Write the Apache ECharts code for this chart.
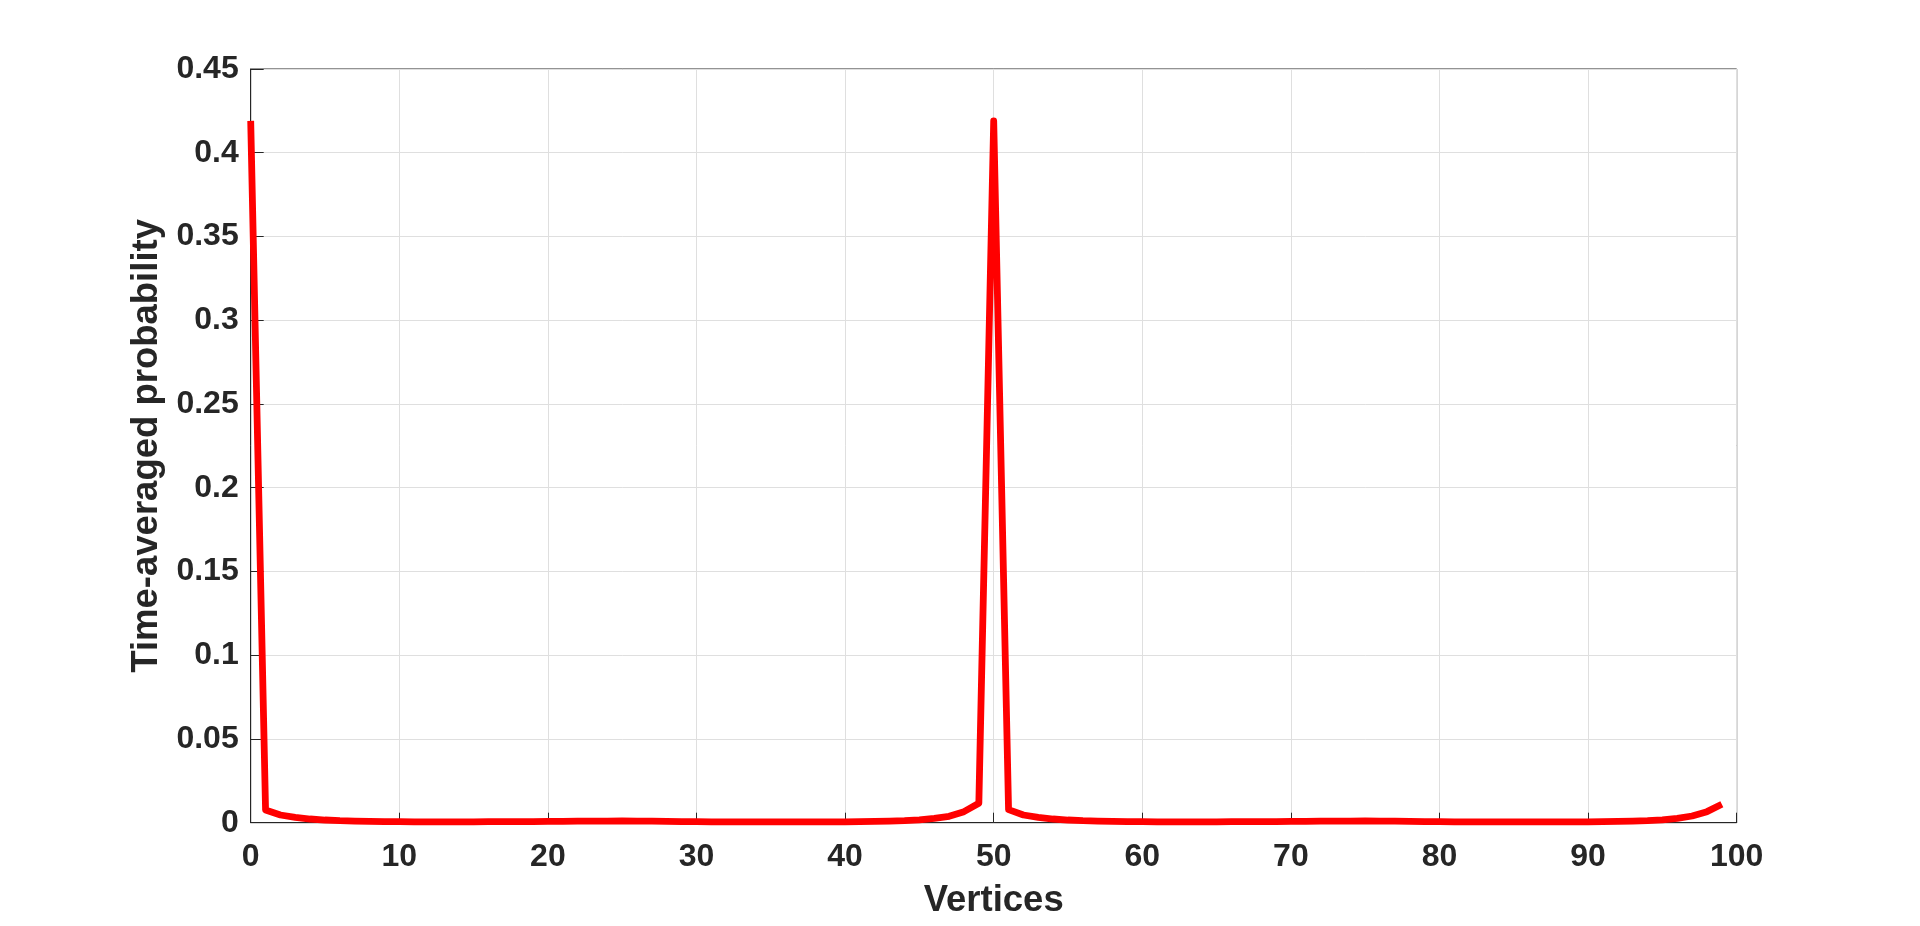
<!DOCTYPE html>
<html>
<head>
<meta charset="utf-8">
<script src="https://cdn.jsdelivr.net/npm/echarts@6/dist/echarts.min.js"></script>
<style>
html,body{margin:0;padding:0;background:#fff;}
#chart{width:1920px;height:926px;}
</style>
</head>
<body>
<div id="chart"></div>
<script>
const vertices = Array.from({length: 100}, (_, i) => i);
const probability = [
  0.419, 0.0076, 0.0046, 0.0032, 0.0022, 0.0016, 0.0012, 0.0010, 0.0008, 0.0007,
  0.0006, 0.0005, 0.0005, 0.0005, 0.0005, 0.0005, 0.0006, 0.0006, 0.0007, 0.0007,
  0.0008, 0.0008, 0.0009, 0.0010, 0.0010, 0.0011, 0.0010, 0.0009, 0.0008, 0.0007,
  0.0006, 0.0005, 0.0005, 0.0005, 0.0005, 0.0005, 0.0005, 0.0005, 0.0005, 0.0005,
  0.0005, 0.0006, 0.0008, 0.0010, 0.0012, 0.0017, 0.0026, 0.0038, 0.0066, 0.0116,
  0.419, 0.0078, 0.0046, 0.0032, 0.0022, 0.0016, 0.0012, 0.0010, 0.0008, 0.0007,
  0.0006, 0.0005, 0.0005, 0.0005, 0.0005, 0.0005, 0.0006, 0.0006, 0.0007, 0.0007,
  0.0008, 0.0008, 0.0009, 0.0010, 0.0010, 0.0011, 0.0010, 0.0009, 0.0008, 0.0007,
  0.0006, 0.0005, 0.0005, 0.0005, 0.0005, 0.0005, 0.0005, 0.0005, 0.0005, 0.0005,
  0.0005, 0.0006, 0.0008, 0.0010, 0.0012, 0.0017, 0.0026, 0.0040, 0.0066, 0.0110
];
const xTicks = [0, 10, 20, 30, 40, 50, 60, 70, 80, 90, 100];
const yTicks = [0, 0.05, 0.1, 0.15, 0.2, 0.25, 0.3, 0.35, 0.4, 0.45];
const xName = 'Vertices';
const yName = 'Time-averaged probability';

const fontFam = '"Liberation Sans", Arial, Helvetica, sans-serif';
const txt = '#262626';
const chart = echarts.init(document.getElementById('chart'), null, {renderer: 'canvas'});
chart.setOption({
  animation: false,
  backgroundColor: '#ffffff',
  grid: {left: 250.7, right: 183.3, top: 69, bottom: 103.3, show: true, borderColor: txt, borderWidth: 1},
  xAxis: {
    type: 'value', min: xTicks[0], max: xTicks[xTicks.length - 1], interval: 10,
    name: xName, nameLocation: 'middle', nameGap: 60,
    nameTextStyle: {fontFamily: fontFam, fontWeight: 'bold', fontSize: 36.5, color: txt},
    axisLine: {onZero: false, lineStyle: {color: txt, width: 1}},
    axisTick: {inside: true, length: 10, lineStyle: {color: txt}},
    axisLabel: {margin: 18, fontFamily: fontFam, fontWeight: 'bold', fontSize: 32, color: txt},
    splitLine: {show: true, lineStyle: {color: '#dfdfdf', width: 1}}
  },
  yAxis: {
    type: 'value', min: yTicks[0], max: yTicks[yTicks.length - 1], interval: 0.05,
    name: yName, nameLocation: 'middle', nameGap: 70, nameRotate: 90,
    nameTextStyle: {fontFamily: fontFam, fontWeight: 'bold', fontSize: 36.5, color: txt},
    axisLine: {show: true, lineStyle: {color: txt, width: 1}},
    axisTick: {show: true, inside: true, length: 13, lineStyle: {color: txt}},
    axisLabel: {margin: 12, fontFamily: fontFam, fontWeight: 'bold', fontSize: 32, color: txt,
      formatter: v => String(+v.toFixed(2))},
    splitLine: {show: true, lineStyle: {color: '#dfdfdf', width: 1}}
  },
  series: [{
    type: 'line',
    data: vertices.map((v, i) => [v, probability[i]]),
    showSymbol: false,
    symbol: 'none',
    lineStyle: {color: '#ff0000', width: 6.8, join: 'round', cap: 'butt'},
    z: 3
  }]
});
</script>
</body>
</html>
